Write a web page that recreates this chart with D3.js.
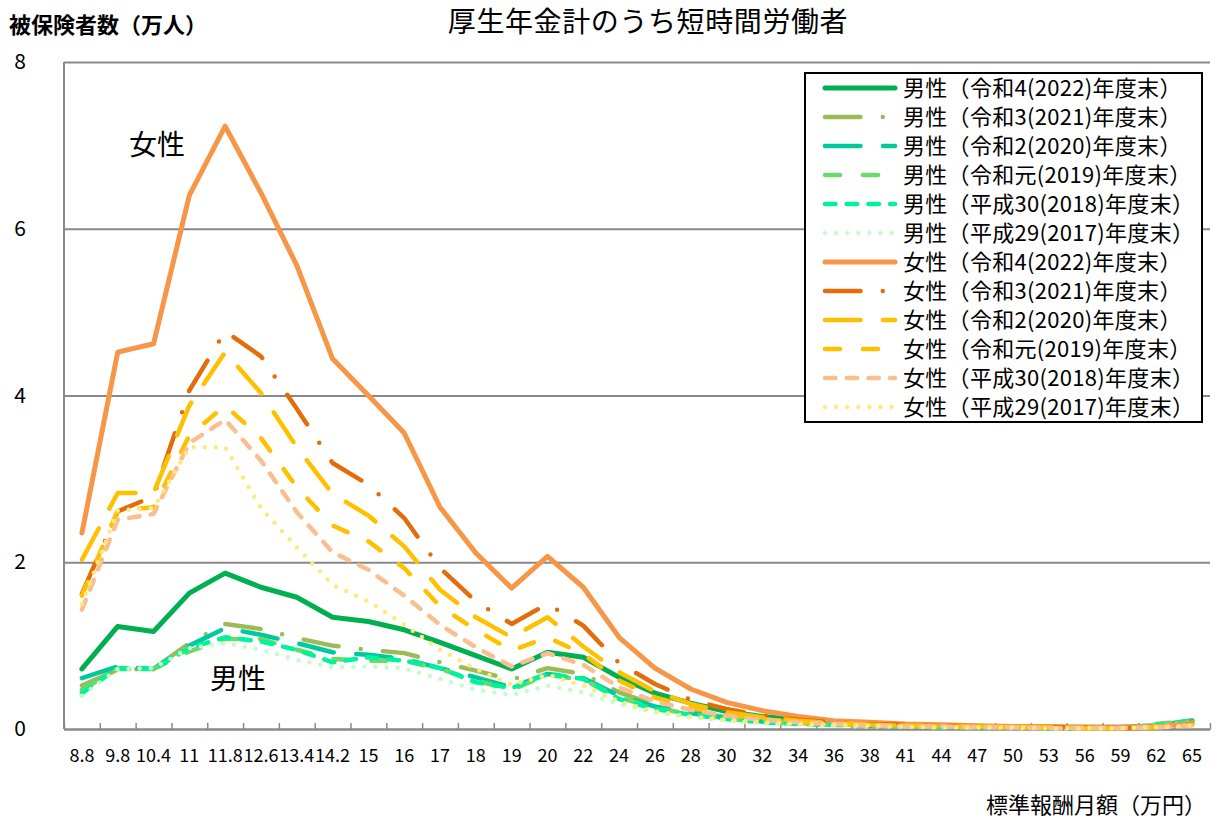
<!DOCTYPE html>
<html>
<head>
<meta charset="utf-8">
<script src="https://cdn.jsdelivr.net/npm/d3@7"></script>
<style>
  body { margin: 0; background: #fff; }
  text { font-family: "Noto Sans CJK JP", "Noto Sans", sans-serif; fill: #000; }
</style>
</head>
<body>
<svg width="1218" height="820"></svg>
<script>
// 標準報酬月額（万円）
const categories = ['8.8','9.8','10.4','11','11.8','12.6','13.4','14.2','15','16','17','18','19','20','22','24',
  '26','28','30','32','34','36','38','41','44','47','50','53','56','59','62','65'];

const yTicks = [0, 2, 4, 6, 8];

// 男性（万人）
const male2022 = [0.72,1.23,1.17,1.63,1.87,1.70,1.58,1.34,1.29,1.19,1.04,0.88,0.72,0.92,0.86,0.62,0.43,0.31,0.21,0.15,0.11,0.08,0.06,0.05,0.04,0.03,0.03,0.02,0.02,0.02,0.04,0.10];
const male2021 = [0.52,0.71,0.72,1.03,1.26,1.20,1.09,1.00,0.95,0.91,0.80,0.70,0.59,0.73,0.66,0.44,0.29,0.21,0.14,0.10,0.07,0.06,0.05,0.04,0.03,0.02,0.02,0.02,0.01,0.01,0.04,0.09];
const male2020 = [0.61,0.75,0.72,1.00,1.21,1.13,1.03,0.92,0.89,0.84,0.73,0.62,0.50,0.66,0.61,0.40,0.27,0.19,0.13,0.09,0.07,0.05,0.04,0.03,0.03,0.02,0.02,0.02,0.01,0.01,0.05,0.09];
const male2019 = [0.47,0.72,0.72,0.93,1.08,1.08,0.95,0.84,0.82,0.82,0.72,0.58,0.47,0.65,0.59,0.38,0.25,0.18,0.12,0.09,0.06,0.05,0.04,0.03,0.02,0.02,0.02,0.01,0.01,0.01,0.06,0.10];
const male2018 = [0.43,0.73,0.72,0.97,1.10,1.05,0.95,0.80,0.86,0.82,0.73,0.56,0.49,0.66,0.60,0.36,0.24,0.17,0.12,0.08,0.06,0.05,0.04,0.03,0.02,0.02,0.02,0.01,0.01,0.01,0.05,0.10];
const male2017 = [0.40,0.72,0.73,0.97,1.03,0.95,0.83,0.74,0.75,0.73,0.60,0.47,0.41,0.52,0.44,0.30,0.20,0.14,0.10,0.07,0.05,0.04,0.03,0.03,0.02,0.02,0.01,0.01,0.01,0.01,0.04,0.08];

// 女性（万人）
const female2022 = [2.35,4.52,4.62,6.40,7.23,6.43,5.56,4.44,4.00,3.55,2.66,2.11,1.69,2.07,1.70,1.10,0.73,0.48,0.32,0.22,0.15,0.10,0.08,0.06,0.05,0.04,0.03,0.03,0.02,0.02,0.03,0.07];
const female2021 = [1.62,2.61,2.79,4.06,4.77,4.47,3.84,3.19,2.93,2.53,1.93,1.53,1.26,1.50,1.24,0.79,0.54,0.35,0.24,0.16,0.11,0.08,0.06,0.05,0.04,0.03,0.02,0.02,0.02,0.01,0.02,0.06];
const female2020 = [2.03,2.83,2.83,3.88,4.52,4.03,3.38,2.82,2.56,2.19,1.67,1.34,1.10,1.34,0.99,0.68,0.45,0.30,0.20,0.14,0.10,0.07,0.05,0.04,0.03,0.03,0.02,0.02,0.01,0.01,0.02,0.05];
const female2019 = [1.60,2.62,2.66,3.52,3.88,3.49,2.90,2.44,2.25,1.93,1.47,1.19,0.94,1.10,0.90,0.58,0.38,0.26,0.18,0.12,0.08,0.06,0.05,0.04,0.03,0.02,0.02,0.02,0.01,0.01,0.02,0.05];
const female2018 = [1.43,2.51,2.58,3.43,3.71,3.22,2.60,2.12,1.91,1.60,1.25,0.98,0.75,0.91,0.77,0.50,0.33,0.23,0.16,0.11,0.08,0.06,0.04,0.03,0.03,0.02,0.02,0.01,0.01,0.01,0.02,0.04];
const female2017 = [1.50,2.62,2.65,3.38,3.38,2.65,2.18,1.73,1.53,1.25,0.95,0.72,0.53,0.65,0.52,0.33,0.21,0.15,0.11,0.08,0.06,0.05,0.04,0.03,0.02,0.02,0.02,0.01,0.01,0.01,0.02,0.04];

const seriesNames = [
  '男性（令和4(2022)年度末）', '男性（令和3(2021)年度末）', '男性（令和2(2020)年度末）',
  '男性（令和元(2019)年度末）', '男性（平成30(2018)年度末）', '男性（平成29(2017)年度末）',
  '女性（令和4(2022)年度末）', '女性（令和3(2021)年度末）', '女性（令和2(2020)年度末）',
  '女性（令和元(2019)年度末）', '女性（平成30(2018)年度末）', '女性（平成29(2017)年度末）'
];
const seriesValues = [male2022, male2021, male2020, male2019, male2018, male2017,
  female2022, female2021, female2020, female2019, female2018, female2017];

const colors = ['#00B050', '#9BBB59', '#00C99B', '#6CD96C', '#00F29A', '#C2FFC8',
  '#F79646', '#E46C0A', '#FFC000', '#FFC000', '#FBBF8F', '#FFE97F'];

// line style by fiscal year: solid, long-dash-dot, long-dash, dash, short dash, dot
const dashes = [null, '35.5 22.25 0 22.25', '35.5 22.5', '15 23', '10.5 11.2', '0 11.1'];

const svg = d3.select('svg');
const width = +svg.attr('width');
const height = +svg.attr('height');

const margin = {top: 62, right: 8, bottom: 91, left: 64};
const innerWidth = width - margin.left - margin.right;
const innerHeight = height - margin.top - margin.bottom;

const xScale = d3.scaleBand()
  .domain(categories)
  .range([0, innerWidth]);

const yScale = d3.scaleLinear()
  .domain([0, 8])
  .range([innerHeight, 0]);

const g = svg.append('g')
  .attr('transform', `translate(${margin.left},${margin.top})`);

// gridlines + y labels
const yAxisG = g.append('g')
  .call(d3.axisLeft(yScale).tickValues(yTicks).tickSize(-innerWidth).tickFormat(d3.format('d')));
yAxisG.select('.domain').remove();
yAxisG.selectAll('.tick line')
  .attr('stroke', '#898989')
  .attr('stroke-width', 2);
yAxisG.selectAll('.tick text')
  .attr('x', -44)
  .attr('dy', '0.32em')
  .attr('text-anchor', 'middle')
  .attr('font-size', 21);

// left axis line
g.append('line')
  .attr('x1', 0).attr('x2', 0)
  .attr('y1', 0).attr('y2', innerHeight)
  .attr('stroke', '#898989')
  .attr('stroke-width', 2);

// x category labels
const xAxisG = g.append('g')
  .attr('transform', `translate(0,${innerHeight})`)
  .call(d3.axisBottom(xScale).tickSize(0).tickPadding(20));
xAxisG.select('.domain')
  .attr('stroke', '#898989')
  .attr('stroke-width', 2);
xAxisG.selectAll('.tick text')
  .attr('font-size', 18);

// tick marks between categories (inward)
const edgeScale = d3.scaleLinear()
  .domain([0, categories.length])
  .range([0, innerWidth]);
const tickG = g.append('g')
  .attr('transform', `translate(0,${innerHeight})`)
  .call(d3.axisBottom(edgeScale).tickValues(d3.range(categories.length + 1)).tickSize(-6).tickFormat(''));
tickG.select('.domain').remove();
tickG.selectAll('.tick line')
  .attr('stroke', '#898989')
  .attr('stroke-width', 1.5);

// lines
const lineGenerator = d3.line()
  .x((d, i) => xScale(categories[i]) + xScale.bandwidth() / 2)
  .y(d => yScale(d));

g.append('g')
  .selectAll('path')
  .data(seriesValues)
  .join('path')
  .attr('d', d => lineGenerator(d))
  .attr('fill', 'none')
  .attr('stroke', (d, i) => colors[i])
  .attr('stroke-width', (d, i) => i % 6 === 0 ? 5 : 4.5)
  .attr('stroke-dasharray', (d, i) => dashes[i % 6])
  .attr('stroke-linecap', 'round')
  .attr('stroke-linejoin', 'round');

// annotations
g.append('text')
  .attr('x', 157 - margin.left)
  .attr('y', 145 - margin.top)
  .attr('dy', '0.35em')
  .attr('text-anchor', 'middle')
  .attr('font-size', 28)
  .text('女性');

g.append('text')
  .attr('x', 238 - margin.left)
  .attr('y', 679 - margin.top)
  .attr('dy', '0.35em')
  .attr('text-anchor', 'middle')
  .attr('font-size', 28)
  .text('男性');

// legend
const legend = svg.append('g')
  .attr('transform', 'translate(805,73)');
legend.append('rect')
  .attr('width', 397)
  .attr('height', 349)
  .attr('fill', '#fff')
  .attr('stroke', '#000')
  .attr('stroke-width', 2);

const rows = legend.selectAll('g.row')
  .data(seriesNames)
  .join('g')
  .attr('class', 'row')
  .attr('transform', (d, i) => `translate(0,${15 + i * 29})`);

rows.append('line')
  .attr('x1', 20).attr('x2', 90)
  .attr('stroke', (d, i) => colors[i])
  .attr('stroke-width', (d, i) => i % 6 === 0 ? 5 : 4.5)
  .attr('stroke-dasharray', (d, i) => dashes[i % 6])
  .attr('stroke-linecap', 'round');

rows.append('text')
  .attr('x', 98)
  .attr('dy', '0.35em')
  .attr('font-size', 22)
  .attr('letter-spacing', 0.3)
  .text(d => d);

// titles
svg.append('text')
  .attr('x', 648)
  .attr('y', 22)
  .attr('dy', '0.35em')
  .attr('text-anchor', 'middle')
  .attr('font-size', 28)
  .attr('letter-spacing', 0.6)
  .text('厚生年金計のうち短時間労働者');

svg.append('text')
  .attr('x', 9)
  .attr('y', 25)
  .attr('dy', '0.35em')
  .attr('font-size', 22)
  .attr('font-weight', 'bold')
  .text('被保険者数（万人）');

svg.append('text')
  .attr('x', 1206)
  .attr('y', 805)
  .attr('dy', '0.35em')
  .attr('text-anchor', 'end')
  .attr('font-size', 22)
  .text('標準報酬月額（万円）');
</script>
</body>
</html>
